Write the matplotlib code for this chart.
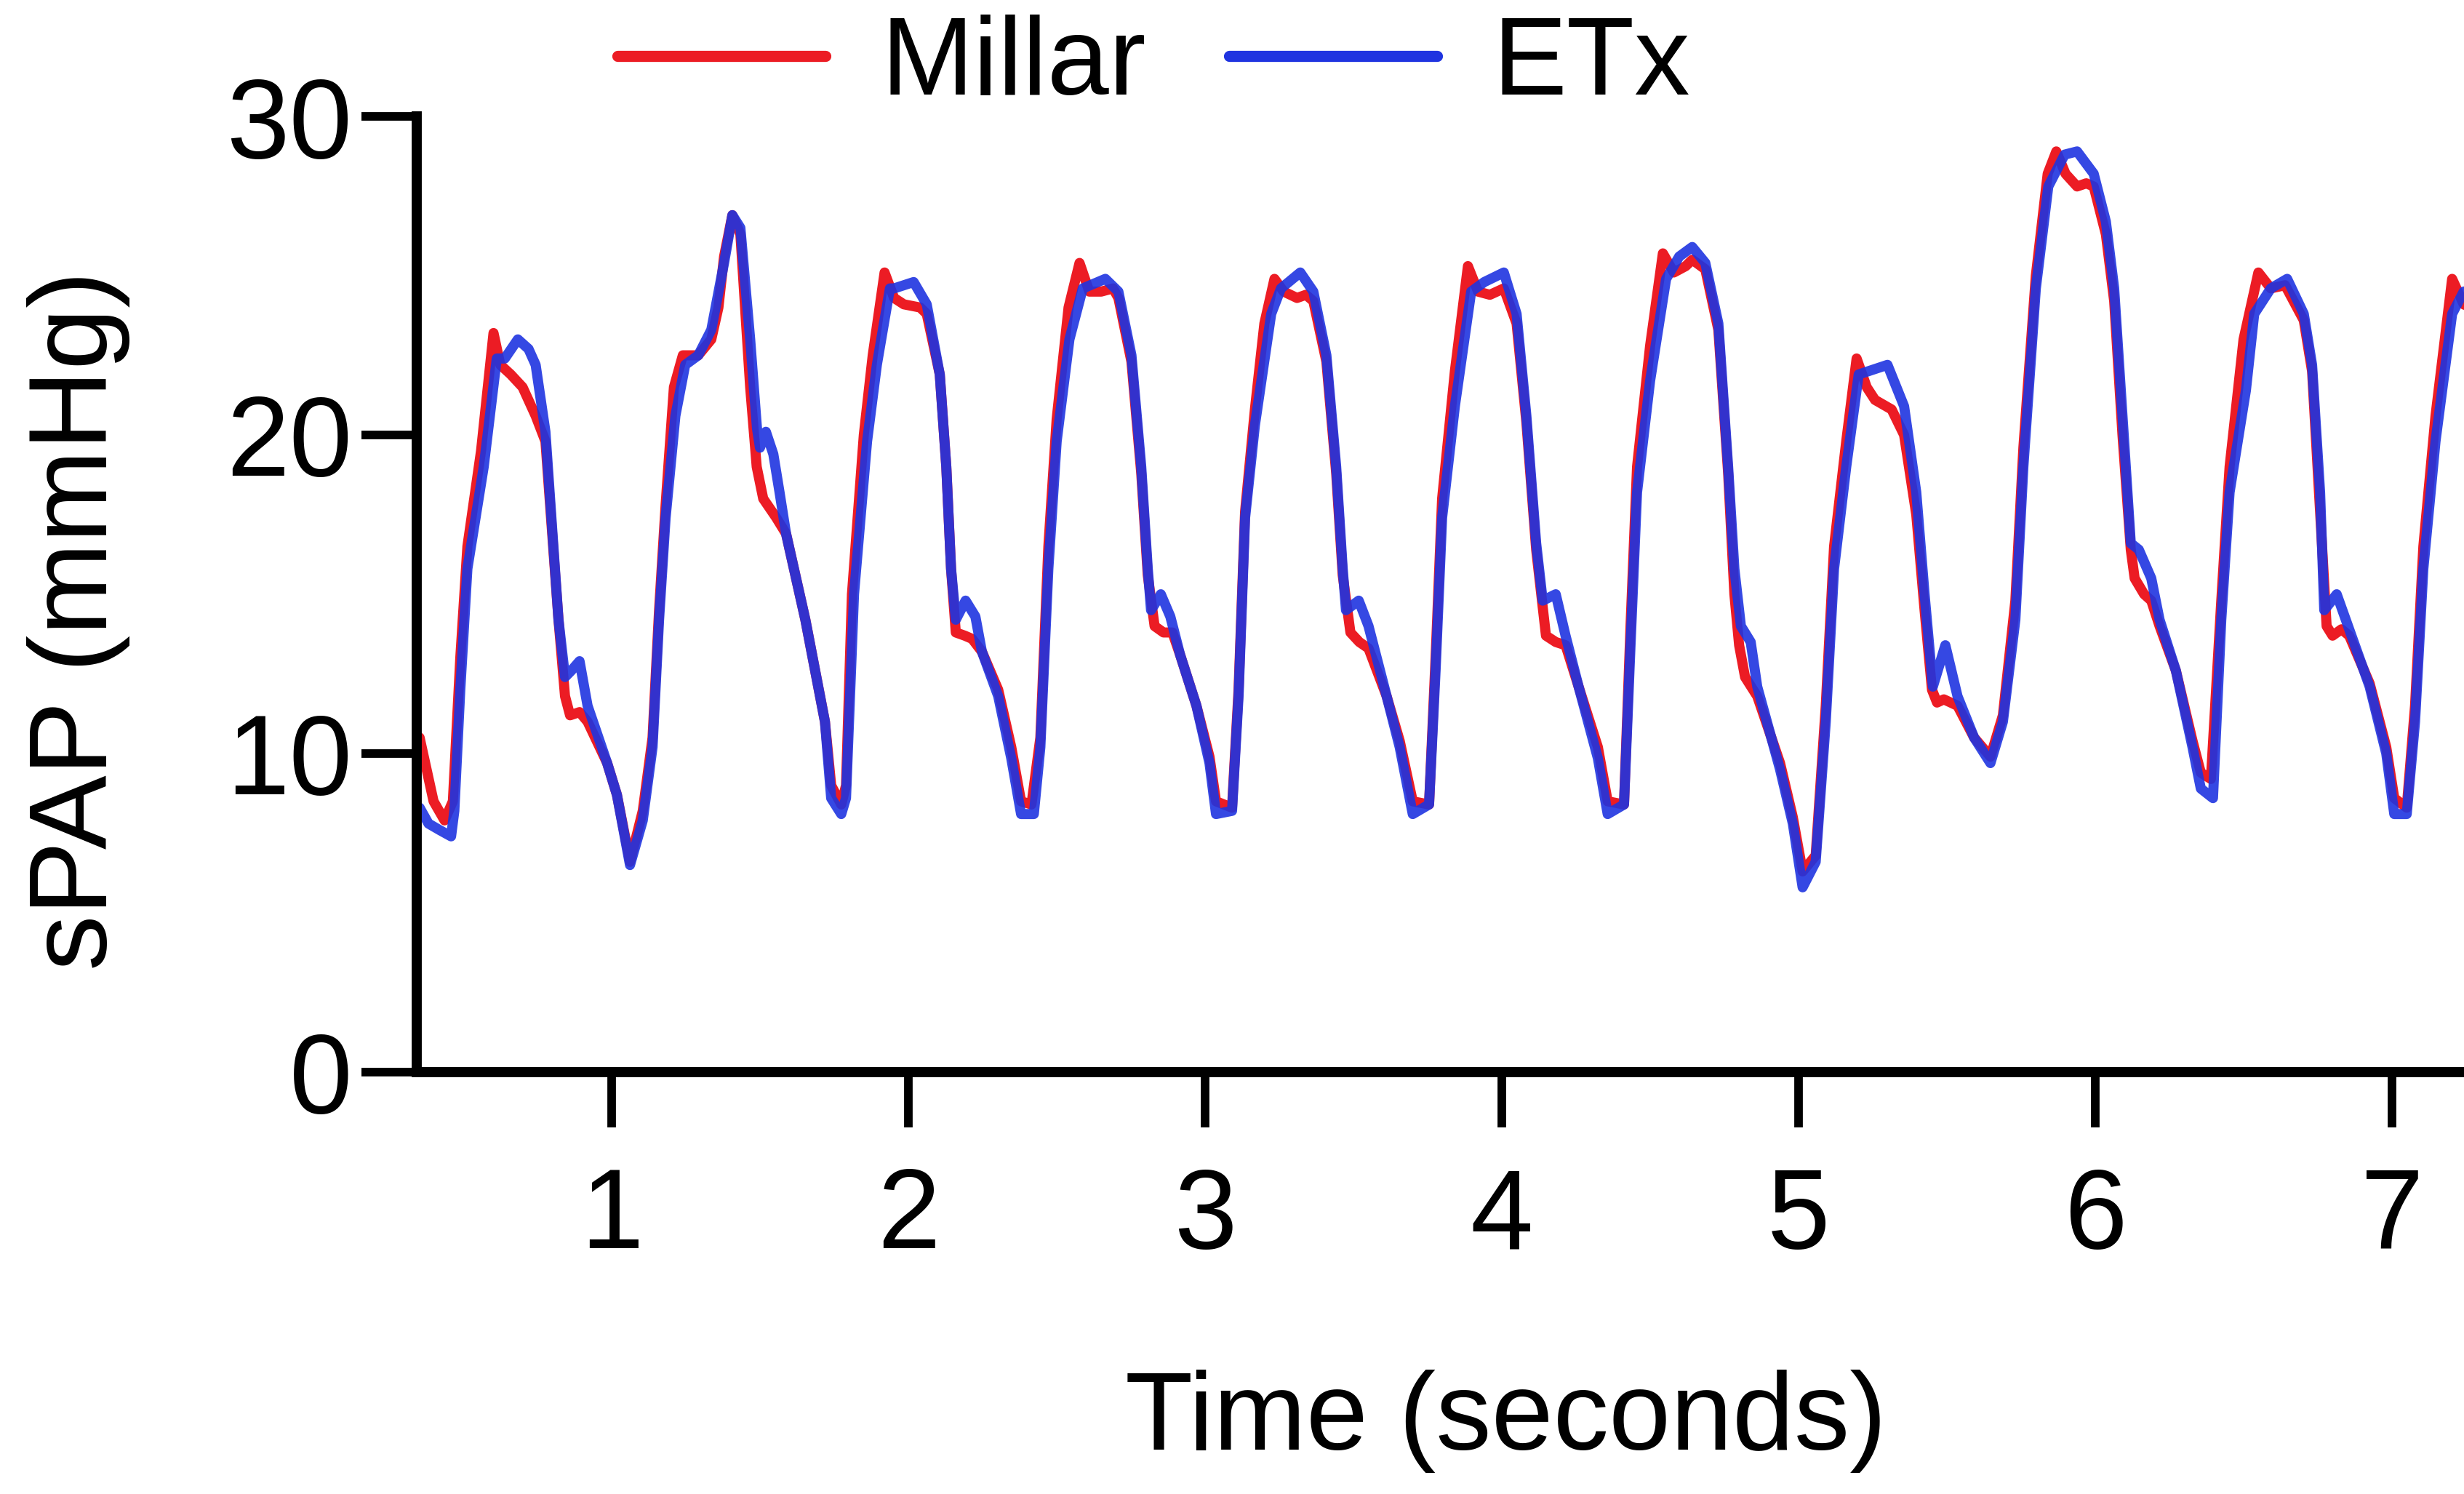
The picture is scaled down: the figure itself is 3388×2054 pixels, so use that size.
import matplotlib
matplotlib.use("Agg")
import matplotlib.pyplot as plt

plt.rcParams["font.family"] = ["Liberation Sans", "DejaVu Sans"]

# Millar catheter trace (red)
millar_t = [0.353, 0.400, 0.437, 0.465, 0.490, 0.514, 0.560, 0.602, 0.625, 0.660,
            0.700, 0.744, 0.777, 0.821, 0.843, 0.860, 0.892, 0.919, 0.985, 1.018,
            1.062, 1.105, 1.138, 1.160, 1.182, 1.210, 1.240, 1.292, 1.336, 1.360,
            1.379, 1.407, 1.434, 1.467, 1.489, 1.511, 1.555, 1.588, 1.653, 1.719,
            1.740, 1.774, 1.790, 1.810, 1.850, 1.880, 1.920, 1.952, 1.985, 2.040,
            2.062, 2.106, 2.128, 2.144, 2.160, 2.190, 2.215, 2.248, 2.303, 2.347,
            2.380, 2.415, 2.445, 2.472, 2.500, 2.540, 2.577, 2.610, 2.650, 2.690,
            2.708, 2.752, 2.785, 2.807, 2.830, 2.860, 2.890, 2.916, 2.971, 3.015,
            3.037, 3.091, 3.113, 3.135, 3.168, 3.200, 3.234, 3.265, 3.310, 3.340,
            3.365, 3.409, 3.442, 3.464, 3.490, 3.520, 3.551, 3.612, 3.656, 3.700,
            3.755, 3.777, 3.799, 3.842, 3.886, 3.920, 3.960, 4.007, 4.050, 4.083,
            4.116, 4.149, 4.182, 4.215, 4.259, 4.324, 4.357, 4.412, 4.434, 4.456,
            4.500, 4.543, 4.580, 4.620, 4.642, 4.686, 4.730, 4.763, 4.784, 4.800,
            4.820, 4.861, 4.938, 4.981, 5.014, 5.058, 5.092, 5.120, 5.161, 5.196,
            5.230, 5.258, 5.314, 5.356, 5.397, 5.425, 5.450, 5.467, 5.490, 5.536,
            5.592, 5.647, 5.689, 5.731, 5.758, 5.800, 5.840, 5.869, 5.900, 5.939,
            5.970, 5.995, 6.036, 6.064, 6.092, 6.120, 6.133, 6.165, 6.189, 6.217,
            6.272, 6.328, 6.356, 6.390, 6.425, 6.453, 6.500, 6.550, 6.592, 6.640,
            6.703, 6.731, 6.758, 6.780, 6.800, 6.830, 6.856, 6.925, 6.981, 7.008,
            7.050, 7.078, 7.106, 7.147, 7.203, 7.242, 7.300]
millar_p = [10.5, 8.5, 7.9, 8.5, 13.0, 16.5, 19.5, 23.2, 22.2, 21.9,
            21.5, 20.6, 19.8, 14.2, 11.8, 11.2, 11.3, 11.0, 9.7, 8.7,
            6.6, 8.2, 10.5, 14.5, 17.8, 21.5, 22.5, 22.5, 23.0, 24.0,
            25.6, 26.9, 26.3, 21.5, 19.0, 18.0, 17.4, 16.9, 14.2, 11.0,
            9.0, 8.4, 9.0, 15.0, 20.0, 22.5, 25.1, 24.3, 24.1, 24.0,
            23.8, 21.9, 19.0, 15.8, 13.8, 13.7, 13.6, 13.2, 12.0, 10.2,
            8.5, 8.4, 10.5, 16.5, 20.5, 24.0, 25.4, 24.5, 24.5, 24.6,
            24.3, 22.3, 18.8, 15.6, 14.0, 13.8, 13.8, 13.1, 11.5, 9.9,
            8.5, 8.3, 12.0, 17.6, 20.8, 23.5, 24.9, 24.5, 24.3, 24.4,
            24.2, 22.3, 18.8, 15.6, 13.8, 13.5, 13.3, 11.8, 10.4, 8.5,
            8.4, 13.0, 18.0, 22.0, 25.3, 24.5, 24.4, 24.6, 23.5, 20.4,
            16.4, 13.7, 13.5, 13.4, 12.1, 10.2, 8.5, 8.4, 14.0, 19.0,
            22.8, 25.7, 25.1, 25.3, 25.5, 25.2, 23.3, 18.8, 15.0, 13.4,
            12.4, 11.8, 9.7, 8.0, 6.3, 6.8, 11.5, 16.5, 19.8, 22.4,
            21.5, 21.1, 20.8, 20.0, 17.5, 14.5, 12.0, 11.6, 11.7, 11.5,
            10.5, 9.9, 11.2, 14.8, 19.6, 25.0, 28.2, 28.9, 28.2, 27.8,
            27.9, 27.8, 26.3, 24.2, 20.0, 16.4, 15.5, 15.0, 14.8, 14.0,
            12.6, 10.4, 9.4, 9.2, 14.8, 19.0, 23.0, 25.1, 24.6, 24.7,
            23.6, 22.0, 17.6, 14.0, 13.7, 13.9, 13.7, 12.2, 10.2, 8.6,
            8.3, 11.5, 16.5, 20.6, 24.9, 24.1, 23.8]

# ETx trace (blue)
etx_t = [0.353, 0.383, 0.420, 0.459, 0.470, 0.490, 0.514, 0.569, 0.613, 0.640,
         0.684, 0.720, 0.744, 0.777, 0.800, 0.821, 0.843, 0.864, 0.892, 0.919,
         0.985, 1.018, 1.062, 1.105, 1.138, 1.160, 1.182, 1.215, 1.248, 1.292,
         1.336, 1.379, 1.407, 1.434, 1.467, 1.490, 1.500, 1.520, 1.545, 1.566,
         1.588, 1.653, 1.719, 1.740, 1.774, 1.790, 1.817, 1.861, 1.894, 1.938,
         1.952, 2.018, 2.062, 2.106, 2.128, 2.144, 2.160, 2.193, 2.226, 2.248,
         2.303, 2.347, 2.380, 2.423, 2.445, 2.472, 2.500, 2.543, 2.588, 2.664,
         2.708, 2.752, 2.785, 2.807, 2.818, 2.851, 2.883, 2.916, 2.971, 3.015,
         3.037, 3.091, 3.113, 3.135, 3.168, 3.223, 3.256, 3.321, 3.365, 3.409,
         3.442, 3.464, 3.475, 3.518, 3.551, 3.612, 3.656, 3.700, 3.755, 3.777,
         3.799, 3.842, 3.897, 3.941, 4.007, 4.050, 4.083, 4.116, 4.138, 4.182,
         4.215, 4.259, 4.324, 4.357, 4.412, 4.434, 4.456, 4.500, 4.554, 4.598,
         4.642, 4.686, 4.730, 4.763, 4.784, 4.806, 4.839, 4.861, 4.938, 4.981,
         5.014, 5.058, 5.092, 5.120, 5.161, 5.203, 5.300, 5.356, 5.397, 5.425,
         5.453, 5.495, 5.536, 5.592, 5.647, 5.689, 5.731, 5.758, 5.800, 5.842,
         5.897, 5.939, 5.995, 6.036, 6.064, 6.092, 6.120, 6.147, 6.189, 6.217,
         6.272, 6.328, 6.356, 6.397, 6.425, 6.453, 6.508, 6.536, 6.592, 6.647,
         6.703, 6.731, 6.758, 6.772, 6.814, 6.856, 6.925, 6.981, 7.008, 7.050,
         7.078, 7.106, 7.147, 7.203, 7.242, 7.300]
etx_p = [8.3, 7.8, 7.6, 7.4, 8.2, 12.0, 15.8, 19.0, 22.4, 22.4,
         23.0, 22.7, 22.2, 20.1, 17.0, 14.2, 12.4, 12.6, 12.9, 11.5,
         9.7, 8.7, 6.5, 7.9, 10.2, 14.2, 17.4, 20.6, 22.2, 22.5,
         23.3, 25.4, 26.9, 26.5, 23.0, 20.2, 19.6, 20.1, 19.4, 18.2,
         16.9, 14.2, 11.0, 8.6, 8.1, 8.6, 15.0, 19.8, 22.2, 24.6,
         24.6, 24.8, 24.1, 21.9, 19.0, 15.8, 14.2, 14.8, 14.3, 13.2,
         11.8, 9.85, 8.1, 8.1, 10.2, 15.8, 19.8, 23.0, 24.6, 24.9,
         24.5, 22.5, 19.0, 15.8, 14.5, 15.0, 14.3, 13.1, 11.5, 9.7,
         8.1, 8.2, 11.8, 17.4, 20.3, 23.8, 24.6, 25.1, 24.5, 22.5,
         19.0, 15.8, 14.5, 14.8, 14.0, 11.8, 10.2, 8.1, 8.4, 12.6,
         17.4, 20.9, 24.5, 24.8, 25.1, 23.8, 20.6, 16.6, 14.8, 15.0,
         13.7, 12.1, 9.85, 8.1, 8.4, 13.4, 18.2, 21.7, 24.9, 25.6,
         25.9, 25.4, 23.5, 19.0, 15.8, 14.0, 13.5, 12.1, 9.5, 7.8,
         5.8, 6.6, 11.0, 15.8, 19.0, 21.9, 22.2, 20.9, 18.2, 15.0,
         12.1, 13.4, 11.8, 10.5, 9.7, 11.0, 14.2, 19.0, 24.6, 27.8,
         28.8, 28.9, 28.2, 26.7, 24.6, 20.6, 16.6, 16.4, 15.5, 14.2,
         12.6, 10.2, 8.9, 8.6, 14.2, 18.2, 21.4, 23.8, 24.6, 24.9,
         23.8, 22.2, 18.2, 14.5, 15.0, 13.9, 12.1, 10.0, 8.1, 8.1,
         11.0, 15.8, 19.8, 23.8, 24.5, 24.6]

x_ticks = [1, 2, 3, 4, 5, 6, 7]
y_ticks = [0, 10, 20, 30]

fig = plt.figure(figsize=(33.88, 20.54), dpi=100)
ax = fig.add_axes([0.1691, 0.2824, 0.8309, 0.6397])

ax.plot(millar_t, millar_p, color="#ec1c24", lw=10, solid_joinstyle="round",
        solid_capstyle="round", label="Millar")
ax.plot(etx_t, etx_p, color="#1f34e0", lw=10, alpha=0.9, solid_joinstyle="round",
        solid_capstyle="round", label="ETx")

ax.set_xlim(0.343, 7.243)
ax.set_ylim(0, 30)
ax.set_xticks(x_ticks)
ax.set_yticks(y_ticks)

for side in ["top", "right"]:
    ax.spines[side].set_visible(False)
for side in ["left", "bottom"]:
    ax.spines[side].set_linewidth(10)
    ax.spines[side].set_capstyle("projecting")

ax.tick_params(axis="both", length=55, width=8.5, labelsize=112)
ax.tick_params(axis="x", pad=38)
ax.tick_params(axis="y", pad=9)

ax.set_xlabel("Time (seconds)", fontsize=110, va="center")
ax.xaxis.set_label_coords(0.532, -0.365)
ax.set_ylabel("sPAP (mmHg)", fontsize=110, va="center")
ax.yaxis.set_label_coords(-0.165, 0.4726)

leg = fig.legend(loc="center left", bbox_to_anchor=(0.2506, 0.9557), ncol=2,
                 frameon=False, fontsize=110, handlelength=1.87, handletextpad=0.5,
                 columnspacing=0.75, borderpad=0, borderaxespad=0)
for line in leg.get_lines():
    line.set_linewidth(11)
    line.set_alpha(1)

fig.savefig("out.png", dpi=100)
